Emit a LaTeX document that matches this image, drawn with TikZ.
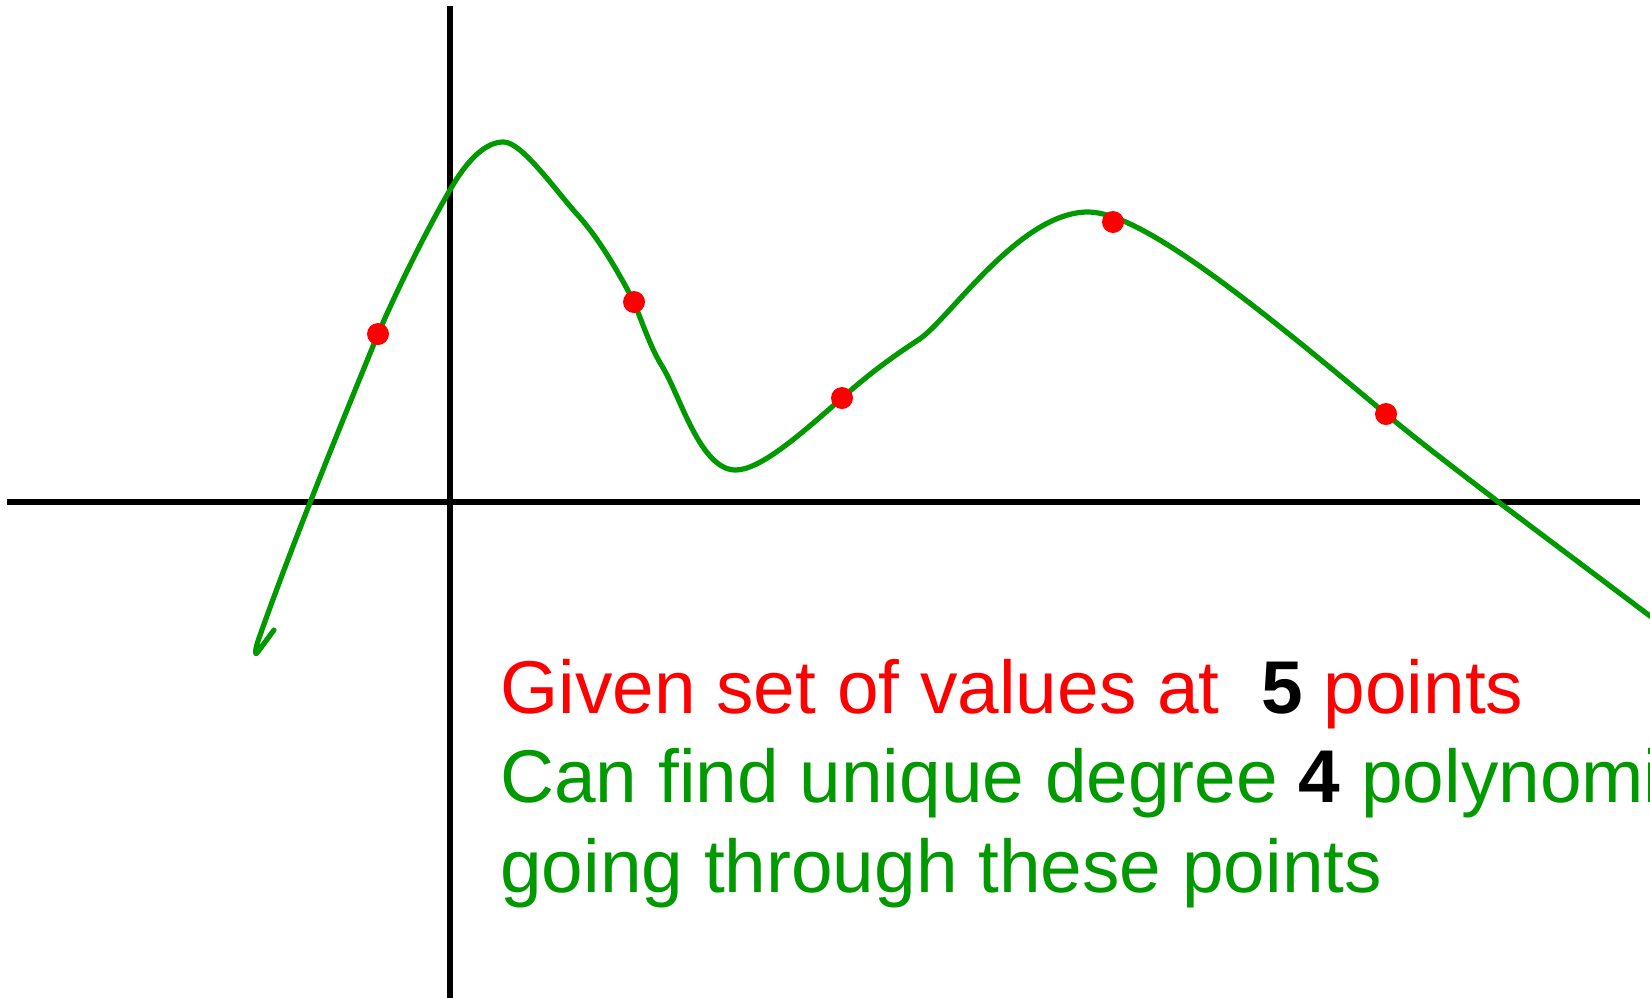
\documentclass[tikz,border=0pt]{standalone}
\usepackage{fontspec}
\setmainfont{Liberation Sans}
\definecolor{pgreen}{RGB}{0,153,0}
\definecolor{pred}{RGB}{255,0,0}
\begin{document}
\begin{tikzpicture}[x=0.5pt,y=-0.5pt,
  axis/.style={line width=3pt, black},
  curve/.style={line width=2.6pt, pgreen, line join=round, line cap=round},
  dot/.style={circle, fill=pred, inner sep=0pt, minimum size=11pt},
  txt/.style={anchor=base west, inner sep=0pt, font=\fontsize{37.4pt}{44.8pt}\selectfont}]
\useasboundingbox (0,0) rectangle (1650,997);
\clip (0,0) rectangle (1650,997);
\draw[axis] (7,502) -- (1640,502);
\draw[axis] (450,6) -- (450,1000);
\draw[curve] (274,630) -- (257,653)
  .. controls (255,656) and (255,650) .. (258,641)
  .. controls (290,550) and (337,434) .. (378,334)
  .. controls (400,283) and (430,224) .. (450,190)
  .. controls (470,155) and (488,142) .. (503.5,142)
  .. controls (522,142) and (555,190) .. (579,216.5)
  .. controls (600,240) and (620,275) .. (634,302)
  .. controls (645,330) and (652,350) .. (662,366)
  .. controls (680,395) and (700,470) .. (735.6,470)
  .. controls (760,470) and (800,435) .. (842,398)
  .. controls (870,373) and (895,355) .. (919.7,339)
  .. controls (950,318) and (1020,212) .. (1088,212)
  .. controls (1140,212) and (1250,300) .. (1386,414)
  .. controls (1420,442) and (1450,465) .. (1498.5,502)
  -- (1660,623.5);
\node[dot] (p1) at (378,334) {};
\node[dot] (p2) at (634,302) {};
\node[dot] (p3) at (842,398) {};
\node[dot] (p4) at (1113,222) {};
\node[dot] (p5) at (1386,414) {};
\node[txt, text=pred] (l1) at (500,713) {Given set of values at\ \ {\color{black}\textbf{5}} points};
\node[txt, text=pgreen] (l2) at (500,802) {Can find unique degree {\color{black}\textbf{4}} polynomial};
\node[txt, text=pgreen] (l3) at (500,892) {going through these points};
\end{tikzpicture}
\end{document}
